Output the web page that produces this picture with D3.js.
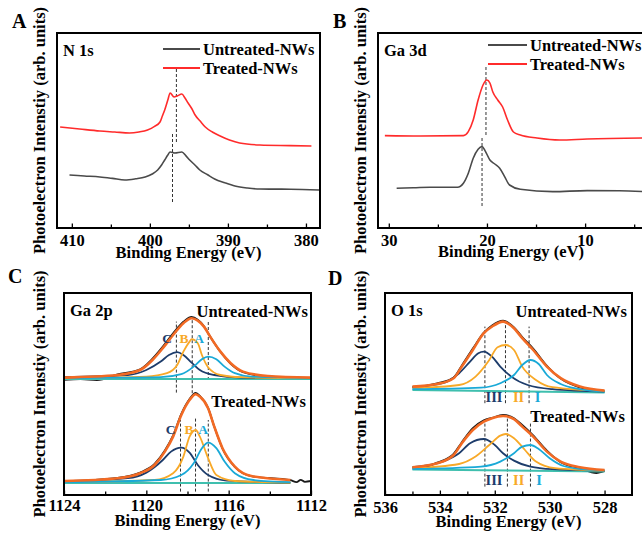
<!DOCTYPE html>
<html>
<head>
<meta charset="utf-8">
<script src="https://cdn.jsdelivr.net/npm/d3@7"></script>
<style>
body { margin: 0; background: #fff; }
svg { display: block; }
text { font-family: "Liberation Serif", "Times New Roman", serif; font-weight: bold; }
</style>
</head>
<body>
<svg></svg>
<script>
const width = 642;
const height = 537;

const svg = d3.select('svg')
	.attr('width', width)
	.attr('height', height);

// ---- data: [binding energy (eV), intensity (a.u.)] ----

// A: N 1s
const n1sUntreated = [[410.3,26.5],[408.4,26],[406.4,25.5],[404.8,24.8],[403.2,24],[401.8,24.6],[400.6,25.5],[399.7,27],[399.0,29],[398.5,31.5],[398.1,34],[397.7,36.5],[397.4,38],[396.8,37.5],[395.9,38],[395.4,36.2],[394.9,34],[394.2,31.4],[393.6,29],[392.6,26.6],[391.7,24.5],[390.4,22.6],[389.1,21],[387.5,20],[385.9,19.5],[382,19.4],[378.3,19]];
const n1sTreated = [[411.5,50.5],[409,49.5],[406.4,48.5],[404.5,48],[402.6,47.5],[401.4,48],[400.3,49],[399.4,50.8],[398.7,53],[398.4,56],[398.1,59],[397.7,64],[397.4,67.5],[396.9,65.5],[396.5,66],[395.9,67],[395.5,65],[395.1,62.5],[394.6,59.5],[394.2,56.5],[393.5,53.2],[392.9,50.5],[392,48],[391.0,46],[389.8,44],[388.5,42.5],[385.9,41.5],[382,41.2],[379.3,41]];
const n1sMarks = [
	{ e: 396.6, y0: 43, y1: 80 },
	{ e: 397.1, y0: 13, y1: 48 }
];

// B: Ga 3d
const ga3dUntreated = [[29.2,19.9],[27.5,20.1],[25.8,20.4],[23.0,20.4],[22.4,22.4],[21.9,27.4],[21.4,34.9],[20.9,39.4],[20.5,40.7],[20.2,38.7],[19.7,34],[19.2,32],[18.7,29.9],[18.2,25.7],[17.7,21.5],[16.6,19.4],[13.3,18.2],[9.8,18.7],[6.5,18.6],[4.0,18.2]];
const ga3dTreated = [[30.4,46.2],[26.8,46],[22.4,46.2],[21.9,48.2],[21.4,54],[20.9,64],[20.4,71.5],[20.0,74],[19.7,72.5],[19.4,68],[18.9,64],[18.4,60.5],[17.9,54],[17.3,48],[16.6,46.5],[14.9,45],[12.6,44],[9.8,44.5],[4.0,45]];
const ga3dMarks = [
	{ e: 20.1, y0: 46.5, y1: 81.5 },
	{ e: 20.5, y0: 11, y1: 46 }
];

// C: Ga 2p, untreated (upper) and treated (lower)
const ga2pRawU = [[1124,57.6],[1123.2,57.9],[1122.4,57.5],[1121.4,60.3],[1120.3,62.9],[1119.7,68.2],[1119.2,74.2],[1118.7,80.8],[1118.2,86.6],[1117.8,89],[1117.5,87.6],[1117.2,84.4],[1116.9,79.3],[1116.4,71.6],[1115.9,65.6],[1115.3,61.4],[1114.1,59.2],[1112,58.5]];
const ga2pEnvU = [[1124,58.7],[1121.4,60],[1120.3,62.5],[1119.7,67.5],[1119.2,73.4],[1118.7,80],[1118.2,85.9],[1117.8,88.4],[1117.5,87.2],[1117.2,84.2],[1116.9,79.2],[1116.4,71.7],[1115.9,65.9],[1115.3,61.7],[1114.1,59.5],[1112,58.7]];
const ga2pCU = [[1124,58.9],[1120.9,60],[1120,62.5],[1119.3,66.7],[1118.9,70],[1118.5,71.4],[1118.2,70],[1117.8,66.2],[1117.4,62.5],[1116.7,60],[1115.4,58.7],[1112,58.4]];
const ga2pBU = [[1124,58.4],[1120,59.2],[1119,60.9],[1118.5,65],[1118.2,71.7],[1117.9,76.7],[1117.8,77.9],[1117.5,75.9],[1117.3,70],[1117,63.9],[1116.4,60],[1115.4,58.9],[1112,58.4]];
const ga2pAU = [[1124,58.4],[1119.3,58.9],[1118.3,60.4],[1117.7,64.2],[1117.3,67.9],[1117,69.2],[1116.6,67.9],[1116.2,64.2],[1115.7,60.9],[1114.9,59.2],[1112,58.5]];
const ga2pBaseU = [[1124,58],[1112,58]];

const ga2pRawT = [[1124,6.8],[1121.4,8.5],[1120.3,11.2],[1119.6,15.5],[1119.1,22.2],[1118.7,29.8],[1118.3,40.6],[1117.9,48],[1117.6,51],[1117.4,49.6],[1117,43.6],[1116.7,34.2],[1116.3,23.2],[1115.7,14],[1114.9,9.4],[1113,7.4],[1112.7,6.4],[1112.5,7.6],[1112.3,6.6],[1112,7]];
const ga2pEnvT = [[1124,7],[1121.4,8.4],[1120.3,10.9],[1119.6,15],[1119.1,21.7],[1118.7,29.2],[1118.3,40],[1117.9,47.5],[1117.6,50.4],[1117.4,49.2],[1117,43.4],[1116.7,34.2],[1116.3,23.4],[1115.7,14.2],[1114.9,9.5],[1113,7.5]];
const ga2pCT = [[1124,6.7],[1120.9,8.4],[1120,11.2],[1119.2,17.5],[1118.8,21.7],[1118.3,23.7],[1117.9,21.2],[1117.5,15],[1117,10],[1116.1,7.2],[1113,6.2]];
const ga2pBT = [[1124,6.4],[1119.6,7.5],[1118.7,10.9],[1118.2,19.2],[1117.9,29.2],[1117.6,32.5],[1117.4,29.2],[1117,18.4],[1116.6,10],[1115.7,7],[1113,6.2]];
const ga2pAT = [[1124,6.4],[1119.3,7.5],[1118.3,10],[1117.7,15.9],[1117.3,23.4],[1117,26.2],[1116.6,23.4],[1116.2,16.7],[1115.7,10.9],[1114.8,7.5],[1113,6.4]];
const ga2pBaseT = [[1124,6],[1113,6]];

const ga2pMarks = [
	{ e: 1118.54, y0: 51.2, y1: 86.7 }, { e: 1117.77, y0: 50.9, y1: 87.5 }, { e: 1116.99, y0: 57.5, y1: 87.5 },
	{ e: 1118.34, y0: 1.7, y1: 37.5 }, { e: 1117.61, y0: 1.7, y1: 39.2 }, { e: 1116.99, y0: 1.7, y1: 37.5 }
];
const ga2pPeakNames = ['C', 'B', 'A'];

// D: O 1s
const o1sRawU = [[535,53.8],[534.1,55.8],[533.5,58.8],[533.2,64.8],[532.8,73.2],[532.4,81.2],[532.1,84.8],[531.7,87.2],[531.3,83.8],[531,79],[530.6,73.2],[530.1,64.6],[529.6,58.2],[528.9,53.8],[528,51.8]];
const o1sEnvU = [[535,54.2],[534.1,55.5],[533.5,58.4],[533.2,64.2],[532.8,72.5],[532.4,80.9],[532.1,84.2],[531.7,86.7],[531.3,83.4],[531,78.4],[530.6,72.5],[530.1,64.2],[529.6,58.4],[528.9,54.2],[528,52.2]];
const o1sIIIU = [[535,53.9],[533.9,55.9],[533.3,60.9],[532.9,66.7],[532.6,70.9],[532.4,71.7],[532.1,69.2],[531.8,64.2],[531.4,59.2],[530.8,55],[529.9,52.9],[528,51.7]];
const o1sIIU = [[535,53.4],[533.3,55],[532.7,59.2],[532.2,67.5],[531.9,73.9],[531.6,75],[531.3,72.5],[531,64.2],[530.5,57.5],[529.9,53.9],[528,52]];
const o1sIU = [[535,52.9],[532.5,53.7],[531.8,55.9],[531.3,60],[531,65],[530.7,67.5],[530.4,65.5],[530.1,60],[529.6,55.5],[528.9,52.9],[528,51.7]];
const o1sBaseU = [[535,52.5],[528,51.2]];

const o1sRawT = [[535,13.4],[534.4,14.6],[534.1,16.2],[533.5,20.6],[533.2,26.4],[532.8,33.4],[532.4,37.4],[532.1,38.6],[531.7,40],[531.3,38.4],[531,35],[530.6,29.8],[530.1,22.2],[529.6,16.4],[528.9,13.4],[528.3,11],[528,12]];
const o1sEnvT = [[535,13.9],[534.1,15.9],[533.5,20],[533.2,25.9],[532.8,32.5],[532.4,36.7],[532.1,38.4],[531.7,39.5],[531.3,37.9],[531,34.2],[530.6,29.2],[530.1,21.7],[529.6,16.7],[528.9,13.9],[528,12.5]];
const o1sIIIT = [[535,13.9],[533.9,16.7],[533.3,20.9],[532.9,25.9],[532.4,28],[532,25],[531.7,20.9],[531.3,17.2],[530.7,14.2],[529.9,12.9],[528,12.2]];
const o1sIIT = [[535,13.4],[533.3,15.5],[532.7,19.2],[532.2,25],[531.8,29.7],[531.6,30.5],[531.3,28.4],[530.9,22.5],[530.5,16.7],[529.8,13.4],[528,12.2]];
const o1sIT = [[535,13],[532.5,14.2],[531.8,16.7],[531.3,20.9],[531,24.2],[530.7,25],[530.4,23],[530,18.4],[529.5,14.5],[528.8,12.9],[528,12.2]];
const o1sBaseT = [[535,12.8],[528,11.8]];

const o1sMarks = [
	{ e: 532.36, y0: 45.9, y1: 84.2 }, { e: 531.61, y0: 45.9, y1: 86.7 }, { e: 530.75, y0: 45.9, y1: 84.2 },
	{ e: 532.36, y0: 4.2, y1: 35.9 }, { e: 531.54, y0: 4.2, y1: 39.2 }, { e: 530.70, y0: 4.2, y1: 35.9 }
];
const o1sPeakNames = ['III', 'II', 'I'];

const seriesNames = ['Untreated-NWs', 'Treated-NWs'];

// ---- colours ----
const gray = '#4a4a4a';
const red = '#ff2b2b';
const envColor = '#f26a24';
const navy = '#1d3c6b';
const amber = '#f8a928';
const cyan = '#19a9d7';
const teal = '#3fbfae';
const compColors = [navy, amber, cyan];

const yTitle = 'Photoelectron Intenstiy (arb. units)';
const xTitle = 'Binding Energy (eV)';

function makePanel(p) {
	const g = svg.append('g');
	const x = d3.scaleLinear().domain(p.xDomain).range(p.xRange);
	const y = d3.scaleLinear().domain(p.yDomain).range(p.yRange);
	const [left, right] = p.xRange;
	const [bottom, top] = p.yRange;

	const clipId = 'clip-' + p.letter;
	svg.append('clipPath').attr('id', clipId)
		.append('rect')
			.attr('x', left).attr('y', top)
			.attr('width', right - left).attr('height', bottom - top);

	const plot = g.append('g').attr('clip-path', `url(#${clipId})`);

	const axis = g.append('g')
		.attr('transform', `translate(0,${bottom})`)
		.call(d3.axisBottom(x).tickValues(p.major).tickFormat(d3.format('d'))
			.tickSizeInner(-4.5).tickSizeOuter(0).tickPadding(p.pad));
	axis.select('.domain').remove();
	axis.selectAll('line').attr('stroke', '#000').attr('stroke-width', 1.3);
	axis.selectAll('text')
		.attr('font-family', '"Liberation Serif", serif')
		.attr('font-weight', 'bold')
		.attr('font-size', 16.5)
		.attr('fill', '#000');

	const minor = g.append('g')
		.attr('transform', `translate(0,${bottom})`)
		.call(d3.axisBottom(x).tickValues(p.minor).tickFormat('')
			.tickSizeInner(-3.5).tickSizeOuter(0));
	minor.select('.domain').remove();
	minor.selectAll('line').attr('stroke', '#000').attr('stroke-width', 1.3);

	g.append('rect')
		.attr('x', left).attr('y', top)
		.attr('width', right - left).attr('height', bottom - top)
		.attr('fill', 'none').attr('stroke', '#000').attr('stroke-width', 2);

	g.append('text')
		.attr('x', (left + right) / 2).attr('y', p.xTitleY)
		.attr('text-anchor', 'middle').attr('font-size', 16.5)
		.text(xTitle);

	g.append('text')
		.attr('transform', `translate(${p.yTitleX},${(top + bottom) / 2}) rotate(-90)`)
		.attr('text-anchor', 'middle').attr('font-size', 16.5)
		.text(yTitle);

	g.append('text')
		.attr('x', p.letterX).attr('y', p.letterY)
		.attr('font-size', 20)
		.text(p.letter);

	g.append('text')
		.attr('x', left + 6).attr('y', top + 23)
		.attr('font-size', 16.5)
		.text(p.core);

	return { g, plot, x, y };
}

function lineFor(x, y) {
	return d3.line()
		.x(d => x(d[0]))
		.y(d => y(d[1]))
		.curve(d3.curveMonotoneX);
}

function drawMarks(plot, x, y, marks) {
	plot.selectAll('line.mark')
		.data(marks)
		.enter().append('line')
			.attr('class', 'mark')
			.attr('x1', d => x(d.e)).attr('x2', d => x(d.e))
			.attr('y1', d => y(d.y0)).attr('y2', d => y(d.y1))
			.attr('stroke', '#333').attr('stroke-width', 1)
			.attr('stroke-dasharray', '3,2');
}

// ---- A & B: raw spectra with legend ----
function surveyPanel(cfg, untreated, treated, marks, legend) {
	const { g, plot, x, y } = makePanel(cfg);
	const line = lineFor(x, y);
	drawMarks(plot, x, y, marks);
	plot.append('path').datum(untreated)
		.attr('d', line).attr('fill', 'none')
		.attr('stroke', gray).attr('stroke-width', 1.6);
	plot.append('path').datum(treated)
		.attr('d', line).attr('fill', 'none')
		.attr('stroke', red).attr('stroke-width', 1.6);

	const items = g.selectAll('g.legend')
		.data(seriesNames)
		.enter().append('g')
			.attr('class', 'legend')
			.attr('transform', (d, i) => `translate(${legend.x},${legend.y + i * legend.step})`);
	items.append('line')
		.attr('x1', 0).attr('x2', legend.len)
		.attr('stroke', (d, i) => i === 0 ? gray : red)
		.attr('stroke-width', 2);
	items.append('text')
		.attr('x', legend.len + 3).attr('y', 6)
		.attr('font-size', 16.5)
		.text(d => d);
}

surveyPanel({
	letter: 'A', core: 'N 1s', letterX: 12, letterY: 28,
	xDomain: [411.9, 378.2], xRange: [57, 320],
	yDomain: [0, 97.5], yRange: [228, 33],
	major: [410, 400, 390, 380], minor: [405, 395, 385],
	pad: 6, xTitleY: 258, yTitleX: 45
}, n1sUntreated, n1sTreated, n1sMarks, { x: 163, y: 49, step: 19, len: 37 });

surveyPanel({
	letter: 'B', core: 'Ga 3d', letterX: 333, letterY: 28,
	xDomain: [31.1, 4], xRange: [378, 644],
	yDomain: [0, 97.5], yRange: [228, 33],
	major: [30, 20, 10], minor: [25, 15, 5],
	pad: 6, xTitleY: 257, yTitleX: 366
}, ga3dUntreated, ga3dTreated, ga3dMarks, { x: 488, y: 45, step: 19, len: 39 });

// ---- C & D: peak fits ----
function fitPanel(cfg, sets, marks, peakNames, labels) {
	const { g, plot, x, y } = makePanel(cfg);
	const line = lineFor(x, y);
	drawMarks(plot, x, y, marks);
	sets.forEach(s => {
		plot.append('path').datum(s.raw)
			.attr('d', line).attr('fill', 'none')
			.attr('stroke', '#1a1a1a').attr('stroke-width', 1.8);
		plot.append('path').datum(s.base)
			.attr('d', line).attr('fill', 'none')
			.attr('stroke', teal).attr('stroke-width', 2);
		s.comps.forEach((c, i) => {
			plot.append('path').datum(c)
				.attr('d', line).attr('fill', 'none')
				.attr('stroke', compColors[i]).attr('stroke-width', 1.8);
		});
		plot.append('path').datum(s.env)
			.attr('d', line).attr('fill', 'none')
			.attr('stroke', envColor).attr('stroke-width', 2.6);
	});

	labels.forEach(l => {
		g.selectAll(null)
			.data(peakNames)
			.enter().append('text')
				.attr('x', (d, i) => l.xs[i]).attr('y', l.y)
				.attr('text-anchor', 'middle')
				.attr('font-size', l.size)
				.attr('fill', (d, i) => compColors[i])
				.text(d => d);
	});

	g.selectAll('text.series')
		.data(seriesNames)
		.enter().append('text')
			.attr('class', 'series')
			.attr('x', (d, i) => cfg.seriesX[i]).attr('y', (d, i) => cfg.seriesY[i])
			.attr('text-anchor', 'end').attr('font-size', 16.5)
			.text(d => d);
}

fitPanel({
	letter: 'C', core: 'Ga 2p', letterX: 8, letterY: 283,
	xDomain: [1124, 1112], xRange: [64, 311],
	yDomain: [0, 101], yRange: [495, 293],
	major: [1124, 1120, 1116, 1112], minor: [1122, 1118, 1114],
	pad: 4, xTitleY: 526, yTitleX: 45,
	seriesX: [308, 306], seriesY: [317, 407]
}, [
	{ raw: ga2pRawU, env: ga2pEnvU, comps: [ga2pCU, ga2pBU, ga2pAU], base: ga2pBaseU },
	{ raw: ga2pRawT, env: ga2pEnvT, comps: [ga2pCT, ga2pBT, ga2pAT], base: ga2pBaseT }
], ga2pMarks, ga2pPeakNames, [
	{ xs: [167, 184, 199], y: 342.5, size: 13.5 },
	{ xs: [170.5, 189, 203], y: 433.5, size: 13.5 }
]);

fitPanel({
	letter: 'D', core: 'O 1s', letterX: 328, letterY: 285,
	xDomain: [536, 527], xRange: [385, 632],
	yDomain: [0, 101], yRange: [495, 293],
	major: [536, 534, 532, 530, 528], minor: [535, 533, 531, 529],
	pad: 6, xTitleY: 527, yTitleX: 366,
	seriesX: [627, 625], seriesY: [317, 422]
}, [
	{ raw: o1sRawU, env: o1sEnvU, comps: [o1sIIIU, o1sIIU, o1sIU], base: o1sBaseU },
	{ raw: o1sRawT, env: o1sEnvT, comps: [o1sIIIT, o1sIIT, o1sIT], base: o1sBaseT }
], o1sMarks, o1sPeakNames, [
	{ xs: [494, 518.6, 537.5], y: 402, size: 14.5 },
	{ xs: [494, 518.7, 539], y: 485, size: 14.5 }
]);
</script>
</body>
</html>
